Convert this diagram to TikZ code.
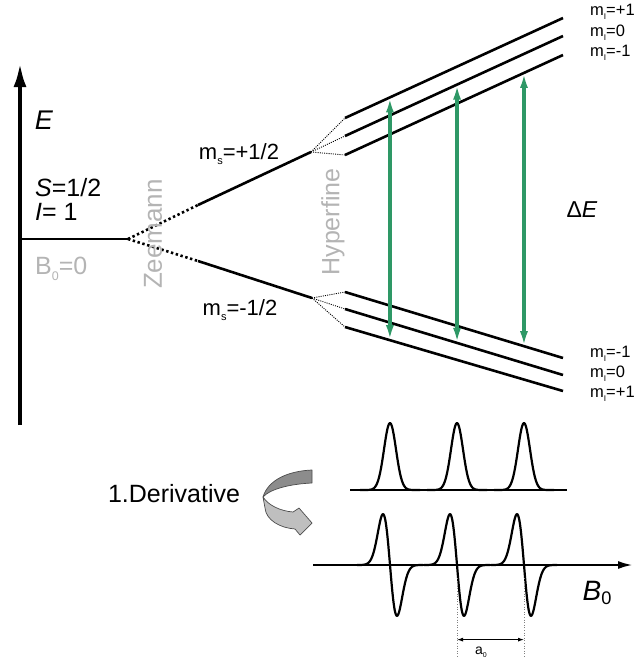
\documentclass[tikz,border=0pt]{standalone}
\usepackage{fontspec}
\setmainfont{Liberation Sans}
\usetikzlibrary{positioning,arrows.meta,calc}
\definecolor{trgreen}{RGB}{46,152,102}
\definecolor{lblgray}{RGB}{180,180,180}
\newcommand{\lsub}[1]{\raisebox{-0.22em}{\scalebox{0.5}{#1}}}

\begin{document}
\begin{tikzpicture}[x=1pt, y=-1pt, >=Latex,
    every node/.style={font=\fontsize{23}{26}\selectfont, inner sep=0pt},
    level/.style={line width=2.6pt},
    zsplit/.style={line width=2.6pt, dash pattern=on 2.4pt off 2.6pt},
    hfsplit/.style={line width=0.9pt, dash pattern=on 1pt off 1.2pt},
    trans/.style={trgreen, line width=3.4pt, {Latex[length=15pt,width=8pt]}-{Latex[length=15pt,width=8pt]}},
    mlabel/.style={anchor=west, font=\fontsize{16.5}{18}\selectfont},
    spec/.style={line width=2.2pt, line join=round}]
  \useasboundingbox (0,0) rectangle (638,661);

  % energy axis and zero field level
  \coordinate (ebot) at (20,425);
  \coordinate (etop) at (20,63);
  \draw[line width=4pt, -{Latex[length=24pt,width=13pt]}] (ebot) -- (etop);
  \node (elab) at (44,120) {\fontsize{27}{30}\selectfont\textit{E}};
  \node[anchor=west] (spin) at (35,188) {\fontsize{25}{28}\selectfont\textit{S}=1/2};
  \node[anchor=west] (nuc) at (35,212) {\fontsize{25}{28}\selectfont\textit{I}= 1};
  \node[anchor=west, text=lblgray] (bzero) at (35,269) {\fontsize{25}{28}\selectfont B\lsub{0}=0};

  \coordinate (z0) at (20,239);
  \coordinate (z1) at (128,239);
  \draw[level] (z0) -- (z1);

  % Zeeman
  \coordinate (up1) at (198,205);
  \coordinate (up2) at (311,152);
  \coordinate (lo1) at (198,261);
  \coordinate (lo2) at (312,298);
  \draw[zsplit] (z1) -- (up1);
  \draw[zsplit] (z1) -- (lo1);
  \draw[level] (up1) -- (up2);
  \draw[level] (lo1) -- (lo2);
  \node[rotate=90, text=lblgray] (zee) at (153,234) {\fontsize{26}{28}\selectfont Zeemann};
  \node (msup) at (239,154) {\fontsize{22}{24}\selectfont m\lsub{s}=+1/2};
  \node (msdn) at (240,310) {\fontsize{22}{24}\selectfont m\lsub{s}=-1/2};

  % hyperfine, upper
  \coordinate (hu1) at (345,118); \coordinate (hu1e) at (563,18);
  \coordinate (hu2) at (345,136); \coordinate (hu2e) at (563,36);
  \coordinate (hu3) at (345,155); \coordinate (hu3e) at (563,55);
  % hyperfine, lower
  \coordinate (hl1) at (345,292); \coordinate (hl1e) at (563,358);
  \coordinate (hl2) at (345,309); \coordinate (hl2e) at (563,375);
  \coordinate (hl3) at (345,327); \coordinate (hl3e) at (563,391);
  \foreach \n in {hu1,hu2,hu3} \draw[hfsplit] (up2) -- (\n);
  \foreach \n in {hl1,hl2,hl3} \draw[hfsplit] (lo2) -- (\n);
  \foreach \n in {hu1,hu2,hu3,hl1,hl2,hl3} \draw[level] (\n) -- (\n e);
  \node[rotate=90, text=lblgray] (hyp) at (333,222) {\fontsize{25}{28}\selectfont Hyperfine};

  \node[mlabel] (mu1) at (590,12) {m\lsub{I}=+1};
  \node[mlabel] (mu2) at (590,33) {m\lsub{I}=0};
  \node[mlabel] (mu3) at (590,53) {m\lsub{I}=-1};
  \node[mlabel] (ml1) at (590,354) {m\lsub{I}=-1};
  \node[mlabel] (ml2) at (590,374) {m\lsub{I}=0};
  \node[mlabel] (ml3) at (590,394) {m\lsub{I}=+1};

  % transitions
  \coordinate (t1) at ($(hu1)!0.206!(hu1e)$);
  \coordinate (b1) at ($(hl3)!0.206!(hl3e)$);
  \coordinate (t2) at ($(hu2)!0.514!(hu2e)$);
  \coordinate (b2) at ($(hl2)!0.514!(hl2e)$);
  \coordinate (t3) at ($(hu3)!0.821!(hu3e)$);
  \coordinate (b3) at ($(hl1)!0.821!(hl1e)$);
  \foreach \i in {1,2,3} \draw[trans] (t\i) -- (b\i);
  \node (de) at (582,210) {Δ\textit{E}};

  % absorption
  \draw[spec] (350,490) -- (567,490);
  \foreach \c in {390,457,524}
    \draw[spec] plot[domain=-30:30, samples=61, smooth] ({\c+\x},{490-67*exp(-(\x*\x)/72)});

  % curved arrow
  \node (deriv) at (174,494) {\fontsize{25}{28}\selectfont 1.Derivative};
  \draw[black!70, line width=0.7pt, fill=black!45, line join=round]
    (312,470) .. controls (288,471) and (268,480) .. (263,497)
    .. controls (270,489) and (290,484) .. (312,483) -- cycle;
  \draw[black!70, line width=0.7pt, fill=black!25, line join=round]
    (263,497) .. controls (268,505) and (280,511) .. (293,512) -- (299,508) -- (312,523)
    -- (300,535) -- (295,529) .. controls (280,528) and (266,520) .. (265,508) -- cycle;

  % derivative spectrum
  \coordinate (ax0) at (313,565);
  \coordinate (ax1) at (633,565);
  \draw[line width=2.4pt, -{Latex[length=15pt,width=8pt]}] (ax0) -- (ax1);
  \draw[spec] (347,565) -- (357,565);
  \foreach \c in {390,457,524}
    \draw[spec] plot[domain=-33:33, samples=81, smooth] ({\c+\x},{565+12*\x*exp(-(\x*\x)/98)});
  \node (bfield) at (597,593) {\fontsize{28}{30}\selectfont\textit{B}\raisebox{-0.15em}{\scalebox{0.65}{0}}};

  % hyperfine coupling constant
  \coordinate (a1t) at (457,578); \coordinate (a1b) at (457,657);
  \coordinate (a2t) at (524,578); \coordinate (a2b) at (524,657);
  \draw[black!50, line width=0.6pt, dotted] (a1t) -- (a1b);
  \draw[black!50, line width=0.6pt, dotted] (a2t) -- (a2b);
  \draw[line width=0.9pt, {Latex[length=6pt,width=4pt]}-{Latex[length=6pt,width=4pt]}]
    ($(a1t)!0.78!(a1b)$) -- ($(a2t)!0.78!(a2b)$);
  \node (aiso) at (481,652) {\fontsize{14}{16}\selectfont a\lsub{0}};
\end{tikzpicture}
\end{document}
